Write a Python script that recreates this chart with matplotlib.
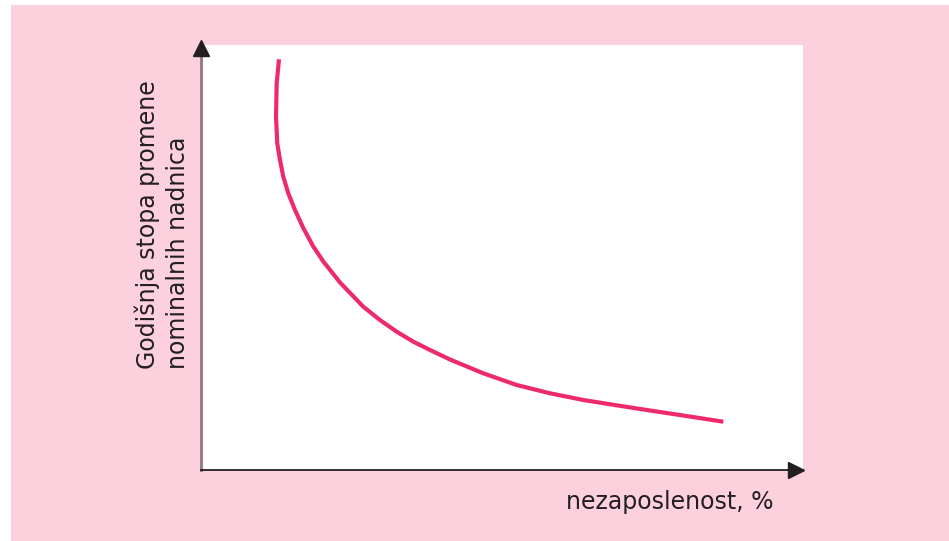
import matplotlib.pyplot as plt
from matplotlib.patches import Rectangle

# Phillips-type curve (arbitrary units 0..10)
nezaposlenost = [1.296, 1.257, 1.246, 1.267, 1.312, 1.367, 1.450, 1.561, 1.699,
                 1.865, 2.032, 2.309, 2.696, 2.973, 3.251, 3.527, 3.804, 4.136,
                 4.689, 5.244, 5.797, 6.351, 6.905, 7.458, 8.012, 8.676]
stopa_nadnica = [9.664, 9.099, 8.313, 7.687, 7.294, 6.901, 6.511, 6.118, 5.694,
                 5.259, 4.906, 4.412, 3.842, 3.529, 3.254, 3.019, 2.824, 2.600,
                 2.275, 2.000, 1.805, 1.647, 1.522, 1.400, 1.282, 1.136]

x_label = "nezaposlenost, %"
y_label = "Godišnja stopa promene\nnominalnih nadnica"

PINK = "#fdd0de"
CURVE = "#ee2a6e"
INK = "#231f20"

W, H = 949, 541
fig = plt.figure(figsize=(W / 100, H / 100), dpi=100)
fig.patch.set_facecolor("white")
fig.patches.append(Rectangle((11 / W, 0), 1 - 11 / W, 1 - 5 / H,
                             transform=fig.transFigure, facecolor=PINK,
                             edgecolor="none", zorder=-1))

ax = fig.add_axes([201 / W, (H - 470) / H, 602 / W, 425 / H])
ax.set_zorder(1)
ax.set_facecolor("white")
ax.set_xlim(0, 10)
ax.set_ylim(0, 10)
ax.set_xticks([])
ax.set_yticks([])
for s in ("top", "right"):
    ax.spines[s].set_visible(False)
ax.spines["left"].set_color("#948086")
ax.spines["left"].set_linewidth(2.2)
ax.spines["bottom"].set_color(INK)
ax.spines["bottom"].set_linewidth(1.3)

ax.plot(nezaposlenost, stopa_nadnica, color=CURVE, lw=3,
        solid_capstyle="butt", solid_joinstyle="round")

# arrow heads
ax.plot([0], [0.992], marker="^", markersize=12, color=INK,
        transform=ax.transAxes, clip_on=False, zorder=5)
ax.plot([0.989], [0], marker=">", markersize=12, color=INK,
        transform=ax.transAxes, clip_on=False, zorder=5)

fig.text(162 / W, 1 - 369 / H, y_label, rotation=90, ha="center", va="bottom",
         multialignment="left", fontsize=17, family="DejaVu Sans",
         color=INK, linespacing=1.3, zorder=3)
fig.text(566 / W, 1 - 502 / H, x_label, ha="left", va="center",
         fontsize=17, family="DejaVu Sans", color=INK, zorder=3)

fig.savefig("out.png", dpi=100, facecolor=fig.get_facecolor())
